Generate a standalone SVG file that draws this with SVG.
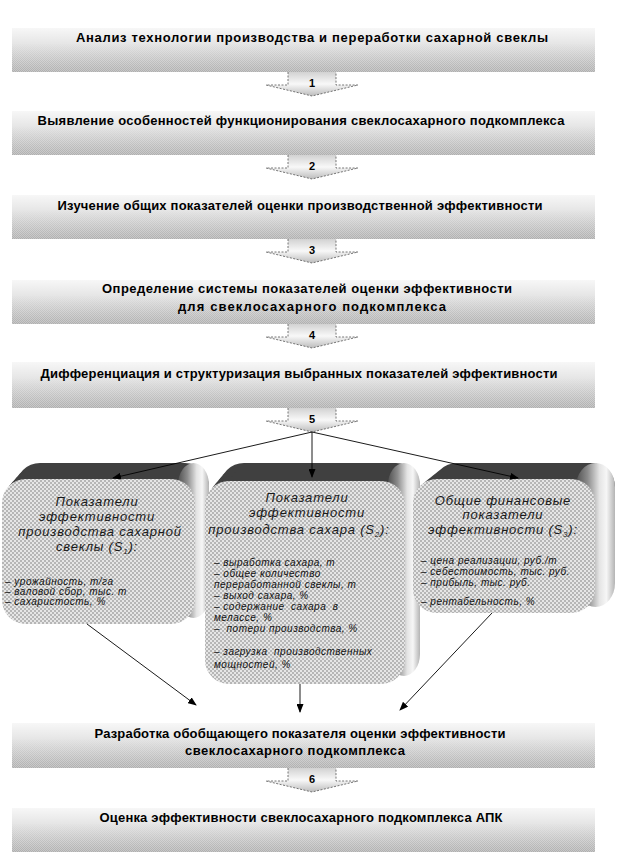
<svg xmlns="http://www.w3.org/2000/svg" width="618" height="853" viewBox="0 0 618 853">
<defs>
<linearGradient id="barG" x1="0" y1="0" x2="0" y2="1">
<stop offset="0" stop-color="#f7f7f7"/><stop offset="1" stop-color="#c6c6c6"/>
</linearGradient>
<linearGradient id="mG" x1="0" y1="0" x2="0" y2="1">
<stop offset="0" stop-color="#000"/><stop offset="0.35" stop-color="#000"/><stop offset="1" stop-color="#fff"/>
</linearGradient>
<mask id="barM" maskContentUnits="objectBoundingBox"><rect x="0" y="0" width="1" height="1" fill="url(#mG)"/></mask>
<pattern id="dith" patternUnits="userSpaceOnUse" width="2" height="2">
<rect x="0" y="0" width="1" height="1" fill="#7a7a7a" fill-opacity="0.3"/><rect x="1" y="1" width="1" height="1" fill="#7a7a7a" fill-opacity="0.3"/>
</pattern>
<pattern id="chk" patternUnits="userSpaceOnUse" width="4" height="4">
<rect width="4" height="4" fill="#e6e6e6"/><rect x="0" y="0" width="2" height="2" fill="#b6b6b6"/><rect x="2" y="2" width="2" height="2" fill="#b6b6b6"/>
</pattern>
<linearGradient id="arG" x1="0" y1="0" x2="0" y2="1">
<stop offset="0" stop-color="#d2d2d2"/><stop offset="0.5" stop-color="#f8f8f8"/><stop offset="1" stop-color="#bcbcbc"/>
</linearGradient>
<linearGradient id="sideG" x1="0" y1="0" x2="1" y2="0">
<stop offset="0" stop-color="#505050"/><stop offset="0.3" stop-color="#8c8c8c"/><stop offset="0.6" stop-color="#e4e4e4"/><stop offset="0.78" stop-color="#f6f6f6"/><stop offset="1" stop-color="#b4b4b4"/>
</linearGradient>
<marker id="ah" markerUnits="userSpaceOnUse" markerWidth="9" markerHeight="7" refX="8" refY="3.5" orient="auto">
<path d="M0,0 L9,3.5 L0,7 z" fill="#000"/>
</marker>
<style>
.bar{fill:url(#barG)}
.dit{fill:url(#dith)}
.bt{font-family:"Liberation Sans",Arial,sans-serif;font-weight:bold;font-size:13px;fill:#000;text-anchor:middle}
.arw{fill:url(#arG)}
.ard{fill:none;stroke:#555;stroke-width:0.8;stroke-dasharray:2 1.5}
.num{font-family:"Liberation Sans",Arial,sans-serif;font-weight:bold;font-size:11px;fill:#000;text-anchor:middle}
.face{fill:url(#chk)}
.top{fill:#404040}
.side{fill:url(#sideG)}
.ti{font-family:"Liberation Sans",Arial,sans-serif;font-style:italic;font-size:13px;letter-spacing:0.8px;fill:#1a1a1a;text-anchor:middle}
.it{font-family:"Liberation Sans",Arial,sans-serif;font-style:italic;font-size:10px;letter-spacing:0.5px;fill:#111}
.sub{font-size:8px}
.cn{stroke:#000;stroke-width:0.9;fill:none}
</style>
</defs>
<rect width="618" height="853" fill="#fff"/>

<g id="bar1"><rect class="bar" x="12" y="28" width="583" height="44"/><rect class="dit" x="12" y="28" width="583" height="44" mask="url(#barM)"/>
<text class="bt" x="312" y="42" textLength="472" lengthAdjust="spacing">Анализ технологии производства и переработки сахарной свеклы</text></g>
<g id="bar2"><rect class="bar" x="12" y="111" width="583" height="44"/><rect class="dit" x="12" y="111" width="583" height="44" mask="url(#barM)"/>
<text class="bt" x="301" y="125" textLength="527" lengthAdjust="spacing">Выявление особенностей функционирования свеклосахарного подкомплекса</text></g>
<g id="bar3"><rect class="bar" x="12" y="195" width="583" height="44"/><rect class="dit" x="12" y="195" width="583" height="44" mask="url(#barM)"/>
<text class="bt" x="300" y="210" textLength="485" lengthAdjust="spacing">Изучение общих показателей оценки производственной эффективности</text></g>
<g id="bar4"><rect class="bar" x="12" y="280" width="583" height="44"/><rect class="dit" x="12" y="280" width="583" height="44" mask="url(#barM)"/>
<text class="bt" x="307" y="293" textLength="410" lengthAdjust="spacing">Определение системы показателей оценки эффективности</text>
<text class="bt" x="312" y="311" textLength="268" lengthAdjust="spacing">для свеклосахарного подкомплекса</text></g>
<g id="bar5"><rect class="bar" x="12" y="362" width="583" height="46"/><rect class="dit" x="12" y="362" width="583" height="46" mask="url(#barM)"/>
<text class="bt" x="299" y="378" textLength="517" lengthAdjust="spacing">Дифференциация и структуризация выбранных показателей эффективности</text></g>
<g id="bar6"><rect class="bar" x="12" y="723" width="583" height="45"/><rect class="dit" x="12" y="723" width="583" height="45" mask="url(#barM)"/>
<text class="bt" x="300" y="738" textLength="411" lengthAdjust="spacing">Разработка обобщающего показателя оценки эффективности</text>
<text class="bt" x="295" y="755" textLength="220" lengthAdjust="spacing">свеклосахарного подкомплекса</text></g>
<g id="bar7"><rect class="bar" x="12" y="808" width="583" height="44"/><rect class="dit" x="12" y="808" width="583" height="44" mask="url(#barM)"/>
<text class="bt" x="301" y="822" textLength="403" lengthAdjust="spacing">Оценка эффективности свеклосахарного подкомплекса АПК</text></g>

<g id="arrow1"><polygon class="arw" points="288,72 336,72 336,85 358,85 312,96 266,85 288,85"/><polyline class="ard" points="288,72 288,85 266,85 312,96 358,85 336,85 336,72"/><text class="num" x="312" y="87">1</text></g>
<g id="arrow2"><polygon class="arw" points="288,155 336,155 336,168 358,168 312,179 266,168 288,168"/><polyline class="ard" points="288,155 288,168 266,168 312,179 358,168 336,168 336,155"/><text class="num" x="312" y="170">2</text></g>
<g id="arrow3"><polygon class="arw" points="288,239 336,239 336,252 358,252 312,263 266,252 288,252"/><polyline class="ard" points="288,239 288,252 266,252 312,263 358,252 336,252 336,239"/><text class="num" x="312" y="254">3</text></g>
<g id="arrow4"><polygon class="arw" points="288,324 336,324 336,337 358,337 312,348 266,337 288,337"/><polyline class="ard" points="288,324 288,337 266,337 312,348 358,337 336,337 336,324"/><text class="num" x="312" y="339">4</text></g>
<g id="arrow5"><polygon class="arw" points="288,408 336,408 336,421 358,421 312,432 266,421 288,421"/><polyline class="ard" points="288,408 288,421 266,421 312,432 358,421 336,421 336,408"/><text class="num" x="312" y="423">5</text></g>
<g id="arrow6"><polygon class="arw" points="288,768 336,768 336,781 358,781 312,792 266,781 288,781"/><polyline class="ard" points="288,768 288,781 266,781 312,792 358,781 336,781 336,768"/><text class="num" x="312" y="783">6</text></g>

<g id="box1">
<rect class="top" x="16" y="463" width="193" height="145" rx="24"/>
<rect class="top" x="12.5" y="467" width="193" height="145" rx="24"/>
<rect class="top" x="9" y="471" width="193" height="145" rx="24"/>
<rect class="top" x="5.5" y="475" width="193" height="145" rx="24"/>
<rect class="side" x="178" y="463" width="31" height="155" rx="22"/>
<rect class="face" x="2" y="479" width="193" height="145" rx="24"/>
<text class="ti" x="97" y="506">Показатели</text>
<text class="ti" x="97" y="521">эффективности</text>
<text class="ti" x="100" y="536">производства сахарной</text>
<text class="ti" x="97" y="551">свеклы (S<tspan class="sub" dy="3">1</tspan><tspan dy="-3">):</tspan></text>
<text class="it" x="5" y="585">– урожайность, т/га</text>
<text class="it" x="5" y="595">– валовой сбор, тыс. т</text>
<text class="it" x="5" y="605">– сахаристость, %</text>
</g>

<g id="box2">
<rect class="top" x="220" y="463" width="200" height="203" rx="24"/>
<rect class="top" x="216.25" y="467.5" width="200" height="203" rx="24"/>
<rect class="top" x="212.5" y="472" width="200" height="203" rx="24"/>
<rect class="top" x="208.75" y="476.5" width="200" height="203" rx="24"/>
<rect class="side" x="388" y="463" width="32" height="213" rx="22"/>
<rect class="face" x="205" y="481" width="200" height="203" rx="24"/>
<text class="ti" x="307" y="502">Показатели</text>
<text class="ti" x="307" y="517">эффективности</text>
<text class="ti" x="299" y="534">производства сахара (S<tspan class="sub" dy="3">2</tspan><tspan dy="-3">):</tspan></text>
<text class="it" x="214" y="566">– выработка сахара, т</text>
<text class="it" x="214" y="577">– общее количество</text>
<text class="it" x="214" y="588">переработанной свеклы, т</text>
<text class="it" x="214" y="599">– выход сахара, %</text>
<text class="it" x="214" y="610" xml:space="preserve">– содержание  сахара  в</text>
<text class="it" x="214" y="621">мелассе, %</text>
<text class="it" x="214" y="632" xml:space="preserve">–  потери производства, %</text>
<text class="it" x="214" y="655" xml:space="preserve">– загрузка  производственных</text>
<text class="it" x="214" y="668">мощностей, %</text>
</g>

<g id="box3">
<rect class="top" x="433" y="463" width="182" height="134" rx="24"/>
<rect class="top" x="428" y="467" width="182" height="134" rx="24"/>
<rect class="top" x="423" y="471" width="182" height="134" rx="24"/>
<rect class="top" x="418" y="475" width="182" height="134" rx="24"/>
<rect class="side" x="576" y="463" width="39" height="144" rx="24"/>
<rect class="face" x="413" y="479" width="182" height="134" rx="24"/>
<text class="ti" x="503" y="505">Общие финансовые</text>
<text class="ti" x="503" y="519">показатели</text>
<text class="ti" x="503" y="534">эффективности (S<tspan class="sub" dy="3">3</tspan><tspan dy="-3">):</tspan></text>
<text class="it" x="421" y="564">– цена реализации, руб./т</text>
<text class="it" x="421" y="575">– себестоимость, тыс. руб.</text>
<text class="it" x="421" y="586">– прибыль, тыс. руб.</text>
<text class="it" x="421" y="605">– рентабельность, %</text>
</g>

<g id="connectors">
<line class="cn" x1="312" y1="432" x2="113" y2="478" marker-end="url(#ah)"/>
<line class="cn" x1="312" y1="432" x2="312" y2="477" marker-end="url(#ah)"/>
<line class="cn" x1="312" y1="432" x2="518" y2="478" marker-end="url(#ah)"/>
<line class="cn" x1="87" y1="624" x2="196" y2="705" marker-end="url(#ah)" stroke-width="0.7"/>
<line class="cn" x1="300" y1="684" x2="300" y2="712" marker-end="url(#ah)" stroke-width="1.2"/>
<line class="cn" x1="492" y1="613" x2="400" y2="710" marker-end="url(#ah)" stroke-width="0.7"/>
</g>
</svg>
